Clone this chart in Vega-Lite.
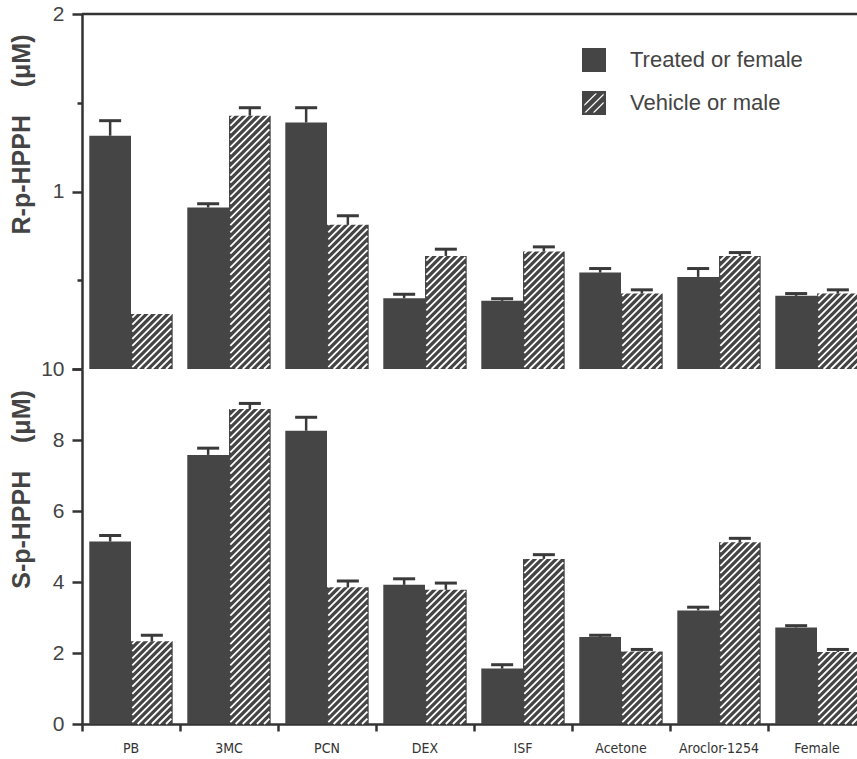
{
  "$schema": "https://vega.github.io/schema/vega-lite/v6.json",
  "padding": {"left": 8, "top": 3, "right": 0, "bottom": 0},
  "bounds": "flush",
  "datasets": {
    "R": [
      {"treatment": "PB", "series": "Treated or female", "value": 1.314, "hi": 1.399},
      {"treatment": "PB", "series": "Vehicle or male", "value": 0.31, "hi": null},
      {"treatment": "3MC", "series": "Treated or female", "value": 0.91, "hi": 0.931},
      {"treatment": "3MC", "series": "Vehicle or male", "value": 1.427, "hi": 1.472},
      {"treatment": "PCN", "series": "Treated or female", "value": 1.389, "hi": 1.472},
      {"treatment": "PCN", "series": "Vehicle or male", "value": 0.812, "hi": 0.863},
      {"treatment": "DEX", "series": "Treated or female", "value": 0.399, "hi": 0.421},
      {"treatment": "DEX", "series": "Vehicle or male", "value": 0.637, "hi": 0.675},
      {"treatment": "ISF", "series": "Treated or female", "value": 0.384, "hi": 0.396},
      {"treatment": "ISF", "series": "Vehicle or male", "value": 0.662, "hi": 0.688},
      {"treatment": "Acetone", "series": "Treated or female", "value": 0.543, "hi": 0.566},
      {"treatment": "Acetone", "series": "Vehicle or male", "value": 0.425, "hi": 0.446},
      {"treatment": "Aroclor-1254", "series": "Treated or female", "value": 0.519, "hi": 0.566},
      {"treatment": "Aroclor-1254", "series": "Vehicle or male", "value": 0.637, "hi": 0.656},
      {"treatment": "Female", "series": "Treated or female", "value": 0.412, "hi": 0.425},
      {"treatment": "Female", "series": "Vehicle or male", "value": 0.425, "hi": 0.446}
    ],
    "S": [
      {"treatment": "PB", "series": "Treated or female", "value": 5.14, "hi": 5.31},
      {"treatment": "PB", "series": "Vehicle or male", "value": 2.33, "hi": 2.5},
      {"treatment": "3MC", "series": "Treated or female", "value": 7.58, "hi": 7.77},
      {"treatment": "3MC", "series": "Vehicle or male", "value": 8.87, "hi": 9.03},
      {"treatment": "PCN", "series": "Treated or female", "value": 8.26, "hi": 8.64},
      {"treatment": "PCN", "series": "Vehicle or male", "value": 3.85, "hi": 4.03},
      {"treatment": "DEX", "series": "Treated or female", "value": 3.92, "hi": 4.09},
      {"treatment": "DEX", "series": "Vehicle or male", "value": 3.78, "hi": 3.97},
      {"treatment": "ISF", "series": "Treated or female", "value": 1.56, "hi": 1.67},
      {"treatment": "ISF", "series": "Vehicle or male", "value": 4.65, "hi": 4.77},
      {"treatment": "Acetone", "series": "Treated or female", "value": 2.45, "hi": 2.5},
      {"treatment": "Acetone", "series": "Vehicle or male", "value": 2.04, "hi": 2.1},
      {"treatment": "Aroclor-1254", "series": "Treated or female", "value": 3.2, "hi": 3.29},
      {"treatment": "Aroclor-1254", "series": "Vehicle or male", "value": 5.12, "hi": 5.23},
      {"treatment": "Female", "series": "Treated or female", "value": 2.72, "hi": 2.77},
      {"treatment": "Female", "series": "Vehicle or male", "value": 2.03, "hi": 2.1}
    ]
  },
  "spacing": 0,
  "resolve": {"scale": {"color": "independent"}, "legend": {"color": "independent"}},
  "vconcat": [
    {
      "width": 784,
      "height": 355,
      "data": {"name": "R"},
      "layer": [
        {
          "mark": {"type": "bar", "strokeWidth": 0},
          "encoding": {
            "x": {"field": "treatment", "type": "nominal", "scale": {"domain": ["PB", "3MC", "PCN", "DEX", "ISF", "Acetone", "Aroclor-1254", "Female"], "paddingInner": 0, "paddingOuter": 0}, "axis": null},
            "xOffset": {"field": "series", "type": "nominal", "scale": {"paddingInner": 0, "paddingOuter": 0.175}},
            "y": {"field": "value", "type": "quantitative", "scale": {"domain": [0, 2], "nice": false},
              "axis": {"values": [0, 0.5, 1, 1.5, 2], "labelExpr": "datum.value == 2 ? '2' : (datum.value == 1 ? '1' : '')",
                "labelOverlap": false, "labelBound": false, "labelFlush": false,
                "tickSize": {"condition": {"test": "datum.value === 0.5 || datum.value === 1.5", "value": 5}, "value": 10},
                "labelPadding": 8, "labelFontSize": 21, "title": "R-p-HPPH\u00a0\u00a0\u00a0\u00a0(μM)", "titleFontSize": 25, "titleFontWeight": "bold",
                "titleX": -61, "titleY": 120, "titleAngle": -90, "titleBaseline": "middle", "titleAlign": "center"}},
            "color": {"field": "series", "type": "nominal", "scale": {"range": ["#454545", "#454545"]},
              "legend": {"orient": "none", "legendX": 500, "legendY": 34, "title": null, "symbolType": "square", "symbolSize": 576, "symbolStrokeWidth": 0, "symbolOpacity": 1,
                "labelFontSize": 22, "labelColor": "#444", "labelFont": "Liberation Sans", "labelOffset": 24, "labelLimit": 300, "rowPadding": 19, "padding": 0,
                "encode": {"symbols": {"update": {"shape": {"signal": "datum.value === 'Vehicle or male' ? 'M-1,-1L1,-1L1,1L-1,1Z M-0.8,0.1L-0.8,0.25L0.25,-0.8L0.1,-0.8Z M-0.8,0.8L-0.65,0.8L0.8,-0.65L0.8,-0.8Z M-0.1,0.8L0.05,0.8L0.8,0.05L0.8,-0.1Z' : 'square'"}}}}}}
          }
        },
        {
          "transform": [{"filter": "datum.series === 'Vehicle or male'"}],
          "mark": {"type": "point", "filled": false, "stroke": "white", "strokeWidth": 1.8, "opacity": 1, "strokeCap": "butt", "size": 126025,
            "shape": "M-0.11,-0.77L0.11,-0.99M-0.11,-0.73L0.11,-0.95M-0.11,-0.69L0.11,-0.91M-0.11,-0.65L0.11,-0.87M-0.11,-0.61L0.11,-0.83M-0.11,-0.57L0.11,-0.79M-0.11,-0.53L0.11,-0.75M-0.11,-0.49L0.11,-0.71M-0.11,-0.45L0.11,-0.67M-0.11,-0.41L0.11,-0.63M-0.11,-0.37L0.11,-0.59M-0.11,-0.33L0.11,-0.55M-0.11,-0.29L0.11,-0.51M-0.11,-0.25L0.11,-0.47M-0.11,-0.21L0.11,-0.43M-0.11,-0.17L0.11,-0.39M-0.11,-0.13L0.11,-0.35M-0.11,-0.09L0.11,-0.31M-0.11,-0.05L0.11,-0.27M-0.11,-0.01L0.11,-0.23M-0.11,0.03L0.11,-0.19M-0.11,0.07L0.11,-0.15M-0.11,0.11L0.11,-0.11M-0.11,0.15L0.11,-0.07M-0.11,0.19L0.11,-0.03M-0.11,0.23L0.11,0.01M-0.11,0.27L0.11,0.05M-0.11,0.31L0.11,0.09M-0.11,0.35L0.11,0.13M-0.11,0.39L0.11,0.17M-0.11,0.43L0.11,0.21M-0.11,0.47L0.11,0.25M-0.11,0.51L0.11,0.29M-0.11,0.55L0.11,0.33M-0.11,0.59L0.11,0.37M-0.11,0.63L0.11,0.41M-0.11,0.67L0.11,0.45M-0.11,0.71L0.11,0.49M-0.11,0.75L0.11,0.53M-0.11,0.79L0.11,0.57M-0.11,0.83L0.11,0.61M-0.11,0.87L0.11,0.65M-0.11,0.91L0.11,0.69M-0.11,0.95L0.11,0.73M-0.11,0.99L0.11,0.77M-0.08,1L0.11,0.81M-0.04,1L0.11,0.85M0,1L0.11,0.89M0.04,1L0.11,0.93M0.08,1L0.11,0.97"},
          "encoding": {
            "x": {"field": "treatment", "type": "nominal"},
            "xOffset": {"field": "series", "type": "nominal"},
            "y": {"datum": 1}
          }
        },
        {
          "mark": {"type": "rule", "color": "#3a3a3a", "strokeWidth": 2.5},
          "encoding": {
            "x": {"field": "treatment", "type": "nominal"},
            "xOffset": {"field": "series", "type": "nominal"},
            "y": {"field": "value", "type": "quantitative"},
            "y2": {"field": "hi"}
          }
        },
        {
          "mark": {"type": "tick", "orient": "horizontal", "color": "#3a3a3a", "size": 22, "thickness": 3, "opacity": 1},
          "encoding": {
            "x": {"field": "treatment", "type": "nominal"},
            "xOffset": {"field": "series", "type": "nominal"},
            "y": {"field": "hi", "type": "quantitative"}
          }
        },
        {
          "data": {"values": [{"top": 2}]},
          "mark": {"type": "rule", "color": "#333", "strokeWidth": 2.5},
          "encoding": {"y": {"field": "top", "type": "quantitative"}}
        }
      ]
    },
    {
      "width": 784,
      "height": 355,
      "data": {"name": "S"},
      "layer": [
        {
          "mark": {"type": "bar", "strokeWidth": 0},
          "encoding": {
            "x": {"field": "treatment", "type": "nominal", "scale": {"domain": ["PB", "3MC", "PCN", "DEX", "ISF", "Acetone", "Aroclor-1254", "Female"], "paddingInner": 0, "paddingOuter": 0},
              "axis": {"bandPosition": 0, "tickSize": 7, "labelAngle": 0, "labelFont": "Liberation Sans Narrow, DejaVu Sans Condensed, Liberation Sans", "labelFontSize": 14, "labelColor": "#333", "labelPadding": 10, "title": null}},
            "xOffset": {"field": "series", "type": "nominal", "scale": {"paddingInner": 0, "paddingOuter": 0.175}},
            "y": {"field": "value", "type": "quantitative", "scale": {"domain": [0, 10], "nice": false},
              "axis": {"values": [0, 1, 2, 3, 4, 5, 6, 7, 8, 9, 10], "format": "d", "labelExpr": "datum.value % 2 === 0 ? datum.label : ''",
                "labelOverlap": false, "labelBound": false, "labelFlush": false,
                "tickSize": {"condition": {"test": "datum.value % 2 === 1", "value": 5}, "value": 10},
                "labelPadding": 8, "labelFontSize": 21, "title": "S-p-HPPH\u00a0\u00a0\u00a0\u00a0(μM)", "titleFontSize": 25, "titleFontWeight": "bold",
                "titleX": -61, "titleY": 120, "titleAngle": -90, "titleBaseline": "middle", "titleAlign": "center"}},
            "color": {"field": "series", "type": "nominal", "scale": {"range": ["#454545", "#454545"]}, "legend": null}
          }
        },
        {
          "transform": [{"filter": "datum.series === 'Vehicle or male'"}],
          "mark": {"type": "point", "filled": false, "stroke": "white", "strokeWidth": 1.8, "opacity": 1, "strokeCap": "butt", "size": 126025,
            "shape": "M-0.11,-0.77L0.11,-0.99M-0.11,-0.73L0.11,-0.95M-0.11,-0.69L0.11,-0.91M-0.11,-0.65L0.11,-0.87M-0.11,-0.61L0.11,-0.83M-0.11,-0.57L0.11,-0.79M-0.11,-0.53L0.11,-0.75M-0.11,-0.49L0.11,-0.71M-0.11,-0.45L0.11,-0.67M-0.11,-0.41L0.11,-0.63M-0.11,-0.37L0.11,-0.59M-0.11,-0.33L0.11,-0.55M-0.11,-0.29L0.11,-0.51M-0.11,-0.25L0.11,-0.47M-0.11,-0.21L0.11,-0.43M-0.11,-0.17L0.11,-0.39M-0.11,-0.13L0.11,-0.35M-0.11,-0.09L0.11,-0.31M-0.11,-0.05L0.11,-0.27M-0.11,-0.01L0.11,-0.23M-0.11,0.03L0.11,-0.19M-0.11,0.07L0.11,-0.15M-0.11,0.11L0.11,-0.11M-0.11,0.15L0.11,-0.07M-0.11,0.19L0.11,-0.03M-0.11,0.23L0.11,0.01M-0.11,0.27L0.11,0.05M-0.11,0.31L0.11,0.09M-0.11,0.35L0.11,0.13M-0.11,0.39L0.11,0.17M-0.11,0.43L0.11,0.21M-0.11,0.47L0.11,0.25M-0.11,0.51L0.11,0.29M-0.11,0.55L0.11,0.33M-0.11,0.59L0.11,0.37M-0.11,0.63L0.11,0.41M-0.11,0.67L0.11,0.45M-0.11,0.71L0.11,0.49M-0.11,0.75L0.11,0.53M-0.11,0.79L0.11,0.57M-0.11,0.83L0.11,0.61M-0.11,0.87L0.11,0.65M-0.11,0.91L0.11,0.69M-0.11,0.95L0.11,0.73M-0.11,0.99L0.11,0.77M-0.08,1L0.11,0.81M-0.04,1L0.11,0.85M0,1L0.11,0.89M0.04,1L0.11,0.93M0.08,1L0.11,0.97"},
          "encoding": {
            "x": {"field": "treatment", "type": "nominal"},
            "xOffset": {"field": "series", "type": "nominal"},
            "y": {"datum": 5}
          }
        },
        {
          "mark": {"type": "rule", "color": "#3a3a3a", "strokeWidth": 2.5},
          "encoding": {
            "x": {"field": "treatment", "type": "nominal"},
            "xOffset": {"field": "series", "type": "nominal"},
            "y": {"field": "value", "type": "quantitative"},
            "y2": {"field": "hi"}
          }
        },
        {
          "mark": {"type": "tick", "orient": "horizontal", "color": "#3a3a3a", "size": 22, "thickness": 3, "opacity": 1},
          "encoding": {
            "x": {"field": "treatment", "type": "nominal"},
            "xOffset": {"field": "series", "type": "nominal"},
            "y": {"field": "hi", "type": "quantitative"}
          }
        }
      ]
    }
  ],
  "config": {
    "view": {"stroke": null},
    "font": "Liberation Sans",
    "axis": {"domainColor": "#333", "domainWidth": 2.5, "tickColor": "#333", "tickWidth": 2.5, "labelColor": "#444", "titleColor": "#444", "grid": false, "labelFont": "Liberation Sans", "titleFont": "Liberation Sans"}
  }
}
